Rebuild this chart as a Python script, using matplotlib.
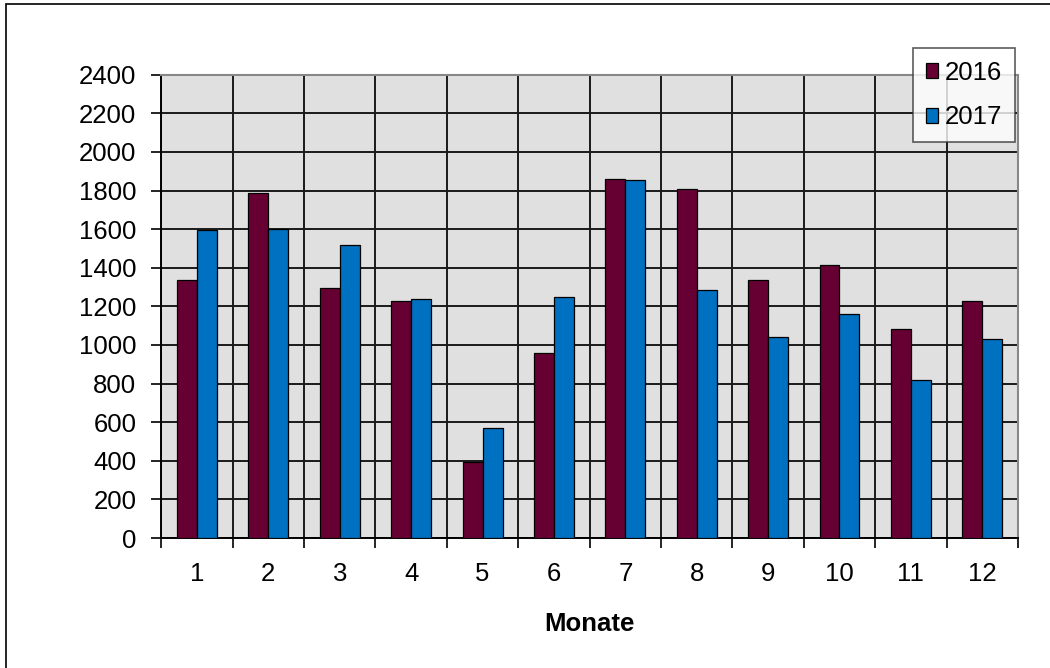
import numpy as np
import matplotlib.pyplot as plt
from matplotlib.patches import Rectangle

months = [1, 2, 3, 4, 5, 6, 7, 8, 9, 10, 11, 12]
values_2016 = [1335, 1786, 1295, 1229, 395, 957, 1862, 1808, 1337, 1414, 1082, 1228]
values_2017 = [1596, 1601, 1516, 1237, 571, 1249, 1855, 1283, 1043, 1162, 817, 1029]
series_labels = ["2016", "2017"]
colors = ["#660033", "#0070C0"]

plt.rcParams["font.family"] = ["Liberation Sans", "DejaVu Sans"]
fs = 18.5

fig = plt.figure(figsize=(10.5, 6.68), dpi=100)
ax = fig.add_axes([0.1536, 0.1946, 0.8159, 0.6936])

# outer chart frame (only top/left visible in the crop)
fig.patches.append(Rectangle((6 / 1050, -0.1), 1.2, 1 - 4 / 668 + 0.1,
                             transform=fig.transFigure, fill=False,
                             edgecolor="black", linewidth=1.2))

x = np.arange(len(months))
w = 0.28
ax.bar(x - w / 2, values_2016, w, color=colors[0], edgecolor="black",
       linewidth=0.9, label=series_labels[0], zorder=3)
ax.bar(x + w / 2, values_2017, w, color=colors[1], edgecolor="black",
       linewidth=0.9, label=series_labels[1], zorder=3)

ax.set_facecolor("#e0e0e0")
ax.set_xlim(-0.5, len(months) - 0.5)
ax.set_ylim(0, 2400)
ax.set_yticks(np.arange(0, 2401, 200))

# category boundaries as vertical grid
bounds = np.arange(len(months) + 1) - 0.5
ax.set_xticks(bounds)
ax.set_xticklabels([])
ax.set_xticks(x, minor=True)
ax.set_xticklabels([str(m) for m in months], minor=True)
ax.tick_params(axis="x", which="minor", length=0, pad=17, labelsize=fs)
ax.tick_params(axis="x", which="major", length=7, width=1.2, direction="out")
ax.tick_params(axis="y", length=7, width=1.2, pad=11, labelsize=fs)

ax.grid(True, which="major", color="#1a1a1a", linewidth=1.4, zorder=1)
ax.set_axisbelow(True)

for side in ["top", "right"]:
    ax.spines[side].set_color("#888888")
    ax.spines[side].set_linewidth(1.5)
for side in ["left", "bottom"]:
    ax.spines[side].set_color("black")
    ax.spines[side].set_linewidth(1.4)

ax.set_xlabel("Monate", fontsize=fs, fontweight="bold", labelpad=19)

leg = fig.legend(loc="upper right", bbox_to_anchor=(1015 / 1050, 1 - 48 / 668),
                 fontsize=fs, frameon=True, fancybox=False, handlelength=0.5,
                 handleheight=0.55, handletextpad=0.25, labelspacing=0.8,
                 borderpad=0.5, borderaxespad=0)
leg.get_frame().set_edgecolor("#333333")
leg.get_frame().set_linewidth(1.2)

fig.savefig("out.png", dpi=100)
